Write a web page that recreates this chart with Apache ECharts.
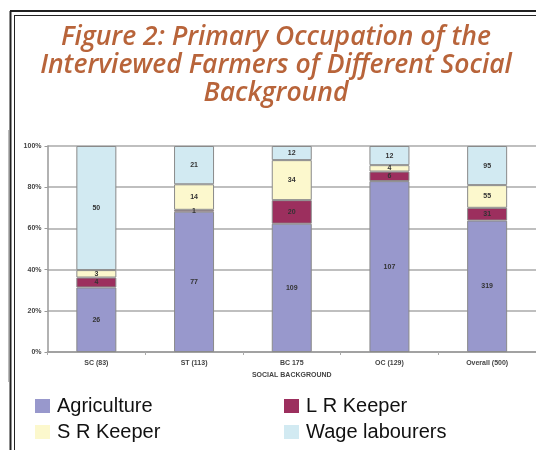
<!DOCTYPE html>
<html lang="en">
<head>
  <meta charset="UTF-8">
  <title>Figure 2</title>
  <script src="https://cdn.jsdelivr.net/npm/echarts@6/dist/echarts.min.js"></script>
  <style>
    html, body { margin: 0; padding: 0; background: #fff; }
    #main { width: 536px; height: 450px; }
  </style>
</head>
<body>
  <div id="main"></div>
  <script>
    // categories and counts
    var categories = ['SC (83)', 'ST (113)', 'BC 175', 'OC (129)', 'Overall (500)']
    var agriculture = [26, 77, 109, 107, 319]
    var lrKeeper = [4, 1, 20, 6, 31]
    var srKeeper = [3, 14, 34, 4, 55]
    var wageLabourers = [50, 21, 12, 12, 95]
    var yTicks = ['0%', '20%', '40%', '60%', '80%', '100%']

    var totals = categories.map(function (c, i) {
      return agriculture[i] + lrKeeper[i] + srKeeper[i] + wageLabourers[i]
    })
    // 100% stacked: value = share, label = count
    function toPct(arr) {
      return arr.map(function (v, i) { return { value: v / totals[i] * 100, count: v } })
    }

    var labelStyle = {
      show: true,
      position: 'inside',
      fontSize: 7,
      fontWeight: 'bold',
      color: '#333',
      fontFamily: 'Liberation Sans',
      formatter: function (p) { return p.data.count }
    }
    function makeSeries(name, arr, color) {
      return {
        name: name,
        type: 'bar',
        stack: 'all',
        barWidth: 40,
        data: toPct(arr),
        itemStyle: { color: color, borderColor: '#8a8a8a', borderWidth: 1 },
        label: labelStyle,
        emphasis: { disabled: true }
      }
    }

    // one legend per entry, laid out as 2 x 2
    function legendItem(name, left, top) {
      return {
        left: left, top: top, padding: 0,
        itemWidth: 15, itemHeight: 14, itemGap: 0,
        icon: 'rect', selectedMode: false,
        itemStyle: { borderWidth: 0 },
        textStyle: { fontSize: 20, color: '#111', fontFamily: 'Liberation Sans', padding: [0, 0, 0, 2] },
        data: [name]
      }
    }

    var chart = echarts.init(document.getElementById('main'))
    var option = {
      animation: false,
      title: {
        text: 'Figure 2: Primary Occupation of the\nInterviewed Farmers of Different Social\nBackground',
        left: 271,
        top: 18,
        textAlign: 'center',
        textStyle: {
          color: '#b8643a',
          fontSize: 26.5,
          fontStyle: 'italic',
          fontWeight: 600,
          fontFamily: 'Open Sans',
          lineHeight: 28
        }
      },
      grid: { left: 47.5, right: -4, top: 146, bottom: 98, containLabel: false },
      xAxis: {
        type: 'category',
        data: categories,
        name: 'SOCIAL BACKGROUND',
        nameLocation: 'middle',
        nameGap: 20,
        nameTextStyle: { fontSize: 7, fontWeight: 'bold', color: '#444', fontFamily: 'Liberation Sans' },
        axisLine: { lineStyle: { color: '#999', width: 1.5 } },
        axisTick: { show: true, length: 3, lineStyle: { color: '#aaa' } },
        axisLabel: { fontSize: 7, fontWeight: 'bold', color: '#444', margin: 8, fontFamily: 'Liberation Sans' }
      },
      yAxis: {
        type: 'value',
        min: 0,
        max: 100,
        interval: 20,
        axisLine: { show: true, lineStyle: { color: '#999', width: 1.5 } },
        axisTick: { show: true, length: 3, lineStyle: { color: '#999' } },
        splitLine: { lineStyle: { color: '#aaa', width: 1.5 } },
        axisLabel: {
          fontSize: 7, fontWeight: 'bold', color: '#444', margin: 6, fontFamily: 'Liberation Sans',
          formatter: function (v) { return yTicks[v / 20] }
        }
      },
      legend: [
        legendItem('Agriculture', 35, 396),
        legendItem('L R Keeper', 284, 396),
        legendItem('S R Keeper', 35, 422),
        legendItem('Wage labourers', 284, 422)
      ],
      series: [
        makeSeries('Agriculture', agriculture, '#9898cc'),
        makeSeries('L R Keeper', lrKeeper, '#9c2f5e'),
        makeSeries('S R Keeper', srKeeper, '#fcf8cd'),
        makeSeries('Wage labourers', wageLabourers, '#d2eaf2')
      ],
      graphic: [
        // double frame of the figure box
        { type: 'line', shape: { x1: 10.5, y1: 11, x2: 10.5, y2: 450 }, style: { stroke: '#222', lineWidth: 2 } },
        { type: 'line', shape: { x1: 14.5, y1: 15, x2: 14.5, y2: 450 }, style: { stroke: '#222', lineWidth: 1 } },
        { type: 'line', shape: { x1: 10, y1: 11, x2: 536, y2: 11 }, style: { stroke: '#222', lineWidth: 2 } },
        { type: 'line', shape: { x1: 14, y1: 15.5, x2: 536, y2: 15.5 }, style: { stroke: '#222', lineWidth: 1 } },
        { type: 'line', shape: { x1: 8.5, y1: 130, x2: 8.5, y2: 382 }, style: { stroke: '#bbb', lineWidth: 1 } }
      ]
    }
    chart.setOption(option)
  </script>
</body>
</html>
